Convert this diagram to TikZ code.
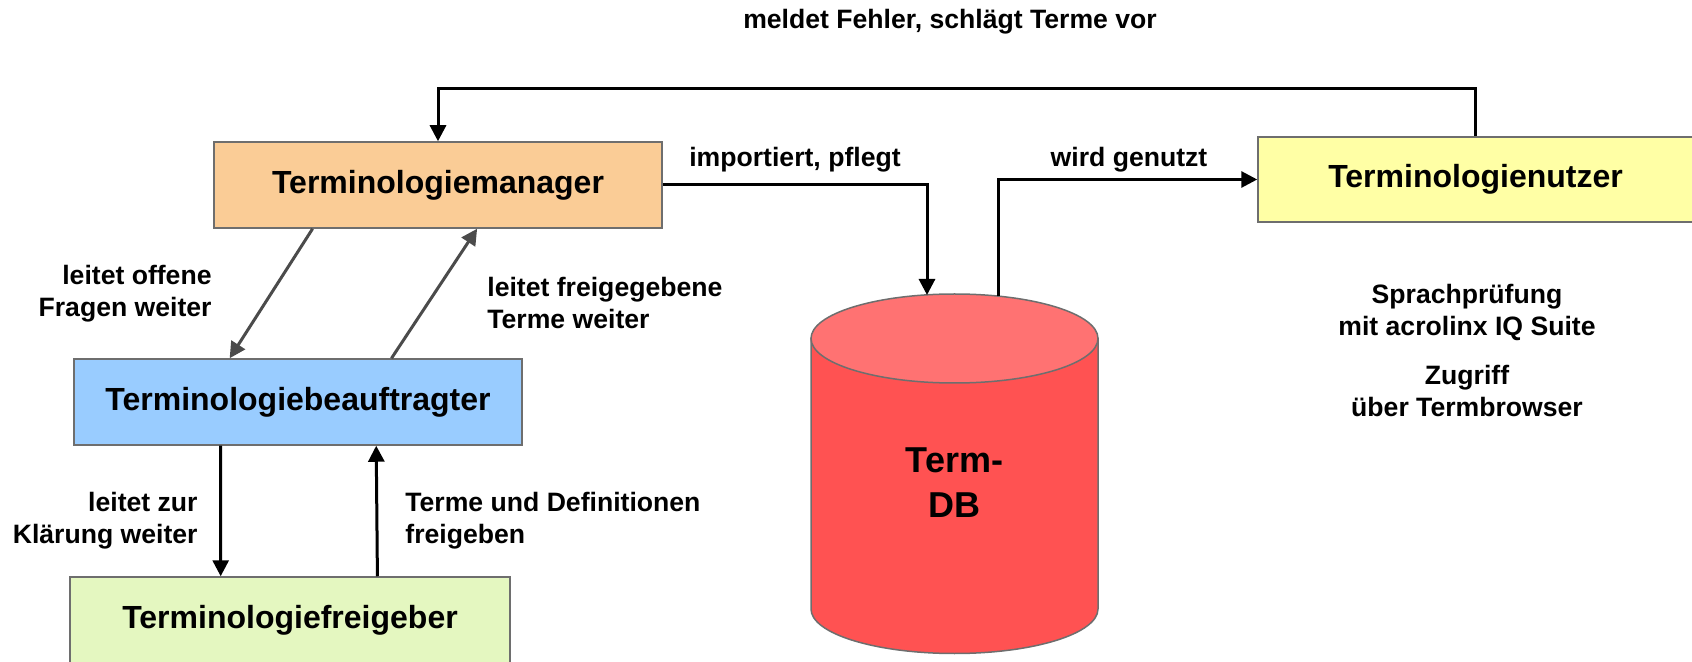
\documentclass[tikz,border=0pt]{standalone}
\usepackage{fontspec}
\setmainfont{Liberation Sans}
\usetikzlibrary{arrows.meta, calc}
\definecolor{orangehell}{RGB}{250, 204, 150}
\definecolor{blauhell}{RGB}{153, 204, 255}
\definecolor{gruenhell}{RGB}{228, 247, 192}
\definecolor{gelbhell}{RGB}{255, 255, 165}
\definecolor{dbrot}{RGB}{255, 82, 82}
\definecolor{dbdeckel}{RGB}{255, 114, 114}
\definecolor{rahmen}{RGB}{110, 110, 110}
\definecolor{dunkelgrau}{RGB}{75, 75, 75}
\tikzset{
  rolle/.style={
    draw=rahmen, line width=0.75pt, minimum width=224pt, minimum height=43pt,
    font=\fontsize{16}{19}\selectfont\bfseries, inner sep=0pt
  },
  rolleManager/.style={rolle, fill=orangehell},
  rolleBeauftragt/.style={rolle, fill=blauhell},
  rolleFreigabe/.style={rolle, fill=gruenhell, minimum width=220pt},
  rolleNutzer/.style={rolle, fill=gelbhell, minimum width=217.5pt, minimum height=42.5pt},
  notiz/.style={font=\fontsize{13.3}{16}\selectfont\bfseries, inner sep=0pt},
  pfeil/.style={-{Triangle[length=8pt, width=8pt]}, line width=1.5pt},
  pfeilgrau/.style={pfeil, draw=dunkelgrau},
}

\begin{document}
\begin{tikzpicture}[
    x=0.5pt, y=-0.5pt,
    dbschrift/.style={
        font=\fontsize{18}{22.5}\selectfont\bfseries,
        align=center,
        inner sep=0pt
    }
]
\useasboundingbox (0,0) rectangle (1692,662);

% Datenbank
\fill[dbrot, draw=rahmen, line width=0.75pt] (811,338.5) -- (811,609)
  arc[start angle=180, end angle=0, x radius=143.5, y radius=44.5] -- (1098,338.5) -- cycle;
\filldraw[fill=dbdeckel, draw=rahmen, line width=0.75pt] (954.5,338.5) ellipse [x radius=143.5, y radius=44.5];
\node[dbschrift] (db) at (954.5,483) {Term-\\DB};
\coordinate (dbein) at (927,295);
\coordinate (dbaus) at (998,296);

% Rollen
\node[rolleManager] (manager) at (438,185) {Terminologiemanager};
\node[rolleBeauftragt] (beauftragter) at (298,402) {Terminologiebeauftragter};
\node[rolleFreigabe] (freigeber) at (290,620) {Terminologiefreigeber};
\node[rolleNutzer] (nutzer) at (1475.5,179.5) {Terminologienutzer};

% Beschriftungen
\node[notiz] (meldet) at (950,22) {meldet Fehler, schlägt Terme vor};
\node[notiz] (pflegt) at (795,160) {importiert, pflegt};
\node[notiz] (genutzt) at (1129,160) {wird genutzt};
\node[notiz, align=right, anchor=east] (offen) at (212,294) {leitet offene\\Fragen weiter};
\node[notiz, align=left, anchor=west] (freigegeben) at (487,303) {leitet freigegebene\\Terme weiter};
\node[notiz, align=right, anchor=east] (klaerung) at (198,521) {leitet zur\\Klärung weiter};
\node[notiz, align=left, anchor=west] (definitionen) at (405,521) {Terme und Definitionen\\freigeben};
\node[notiz, align=center] (pruefung) at (1467,312) {Sprachprüfung\\mit acrolinx IQ Suite};
\node[notiz, align=center] (zugriff) at (1467,391) {Zugriff\\über Termbrowser};

% Verbindungen
\draw[pfeil] (nutzer.north) -- ++(0,-48) -| (manager.north);
\draw[pfeil] (manager.east) -| (dbein);
\draw[pfeil] (dbaus) |- (nutzer.west);
\draw[pfeilgrau] ($(manager.south west)!0.221!(manager.south east)$) -- ($(beauftragter.north west)!0.348!(beauftragter.north east)$);
\draw[pfeilgrau] ($(beauftragter.north west)!0.708!(beauftragter.north east)$) -- ($(manager.south west)!0.587!(manager.south east)$);
\draw[pfeil] ($(beauftragter.south west)!0.328!(beauftragter.south east)$) -- ($(freigeber.north west)!0.343!(freigeber.north east)$);
\draw[pfeil] ($(freigeber.north west)!0.698!(freigeber.north east)$) -- ($(beauftragter.south west)!0.674!(beauftragter.south east)$);

\end{tikzpicture}
\end{document}
